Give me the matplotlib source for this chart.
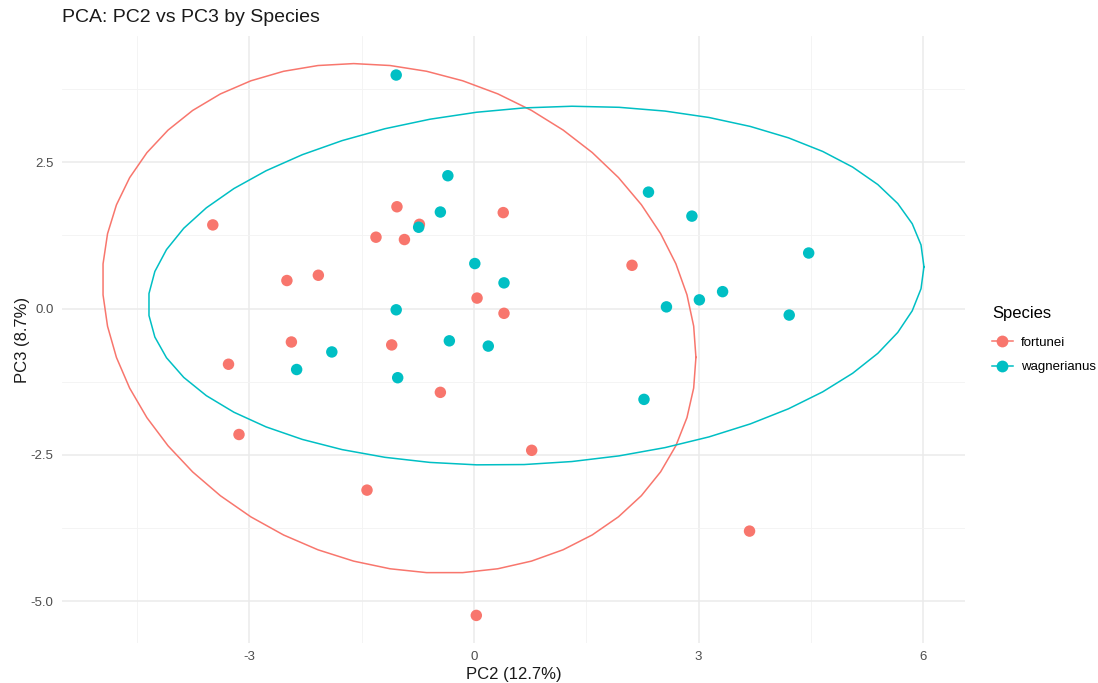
import numpy as np
import matplotlib
matplotlib.use("Agg")
import matplotlib.pyplot as plt
from matplotlib.lines import Line2D

# ---- data ----
species = ["fortunei", "wagnerianus"]
colors = ["#F8766D", "#00BFC4"]

fortunei_pc2 = [-1.03, 0.39, -3.49, -0.73, -1.31, -0.93, -2.50, -2.08, 0.04, 0.40,
                2.11, -2.44, -3.28, -1.10, -0.45, -3.14, -1.43, 0.03, 0.77, 3.68]
fortunei_pc3 = [1.74, 1.64, 1.43, 1.44, 1.22, 1.18, 0.48, 0.57, 0.18, -0.08,
                0.74, -0.57, -0.95, -0.62, -1.43, -2.15, -3.10, -5.24, -2.42, -3.80]

wagnerianus_pc2 = [-1.04, -0.35, -0.45, -0.74, 0.01, 0.40, -1.04, 2.33, 2.91, 4.47,
                   2.57, 3.01, 3.32, 4.21, -1.90, -2.37, -0.33, 0.19, -1.02, 2.27]
wagnerianus_pc3 = [3.99, 2.27, 1.65, 1.39, 0.77, 0.44, -0.02, 1.99, 1.58, 0.95,
                   0.03, 0.15, 0.29, -0.11, -0.74, -1.04, -0.55, -0.64, -1.18, -1.55]

x_ticks = [-3, 0, 3, 6]
y_ticks = [-5.0, -2.5, 0.0, 2.5]
x_minor = [-4.5, -1.5, 1.5, 4.5]
y_minor = [-3.75, -1.25, 1.25, 3.75]

title = "PCA: PC2 vs PC3 by Species"
xlabel = "PC2 (12.7%)"
ylabel = "PC3 (8.7%)"
legend_title = "Species"


# ---- stat_ellipse (type = "t", level = 0.95) ----
def cov_trob(x, nu=5, maxit=25, tol=0.01):
    n, p = x.shape
    wt = np.ones(n)
    loc = (wt[:, None] * x).sum(0) / wt.sum()
    w = np.sqrt(wt)
    for _ in range(maxit):
        w0 = w
        X = x - loc
        U, d, Vt = np.linalg.svd(np.sqrt(w / w.sum())[:, None] * X, full_matrices=False)
        wX = X @ Vt.T @ np.diag(1.0 / d)
        Q = (wX ** 2).sum(1)
        w = (wt * (nu + p)) / (nu + Q)
        loc = (w[:, None] * x).sum(0) / w.sum()
        if np.all(np.abs(w - w0) < tol):
            break
    X = x - loc
    cov = (np.sqrt(w)[:, None] * X).T @ (np.sqrt(w)[:, None] * X) / wt.sum()
    return loc, cov


def ellipse_path(xs, ys, level=0.95, segments=51):
    data = np.column_stack([xs, ys])
    center, shape = cov_trob(data)
    dfn, dfd = 2, len(xs) - 1
    fq = (dfd / 2.0) * ((1 - level) ** (-2.0 / dfd) - 1)  # qf(level, 2, dfd)
    radius = np.sqrt(dfn * fq)
    R = np.linalg.cholesky(shape).T
    ang = np.arange(segments + 1) * 2 * np.pi / segments
    circ = np.column_stack([np.cos(ang), np.sin(ang)])
    e = center + radius * (circ @ R)
    return e[:, 0], e[:, 1]


plt.rcParams["font.family"] = ["Liberation Sans", "DejaVu Sans"]

fig = plt.figure(figsize=(10.98, 6.83), dpi=100)
ax = fig.add_axes([62 / 1098, 1 - 643 / 683, (965 - 62) / 1098, (643 - 36) / 683])

groups = [(fortunei_pc2, fortunei_pc3), (wagnerianus_pc2, wagnerianus_pc3)]
handles = []
for (gx, gy), c, name in zip(groups, colors, species):
    ax.scatter(gx, gy, s=68, color=c, edgecolors="none", zorder=3)
    ex, ey = ellipse_path(np.array(gx), np.array(gy))
    ax.plot(ex, ey, color=c, lw=1.1, zorder=2)
    handles.append(Line2D([0], [0], color=c, lw=1.1, marker="o", markersize=8.5,
                          markeredgewidth=0, label=name))

ax.margins(0.05)
ax.set_xticks(x_ticks)
ax.set_xticklabels([str(t) for t in x_ticks])
ax.set_yticks(y_ticks)
ax.set_yticklabels([f"{t:.1f}" for t in y_ticks])
ax.set_xticks(x_minor, minor=True)
ax.set_yticks(y_minor, minor=True)

ax.grid(True, which="major", color="#EBEBEB", lw=1.1)
ax.grid(True, which="minor", color="#F3F3F3", lw=0.6)
ax.set_axisbelow(True)
for s in ax.spines.values():
    s.set_visible(False)
ax.tick_params(which="both", length=0)
ax.tick_params(axis="both", labelsize=9.5, labelcolor="#4D4D4D", pad=6)

ax.set_xlabel(xlabel, fontsize=12, color="#1A1A1A", labelpad=3)
ax.set_ylabel(ylabel, fontsize=12, color="#1A1A1A", labelpad=0.5)

fig.text(62 / 1098, 1 - 18 / 683, title, fontsize=14, color="#1A1A1A",
         ha="left", va="center")

leg = fig.legend(handles=handles, title=legend_title, loc="upper left",
                 bbox_to_anchor=(980 / 1098, 1 - 294 / 683), frameon=False,
                 fontsize=9.5, title_fontsize=12, handlelength=1.6,
                 handletextpad=0.6, labelspacing=0.9, alignment="left")
leg._legend_box.sep = 11.5

fig.savefig("out.png", dpi=100)
